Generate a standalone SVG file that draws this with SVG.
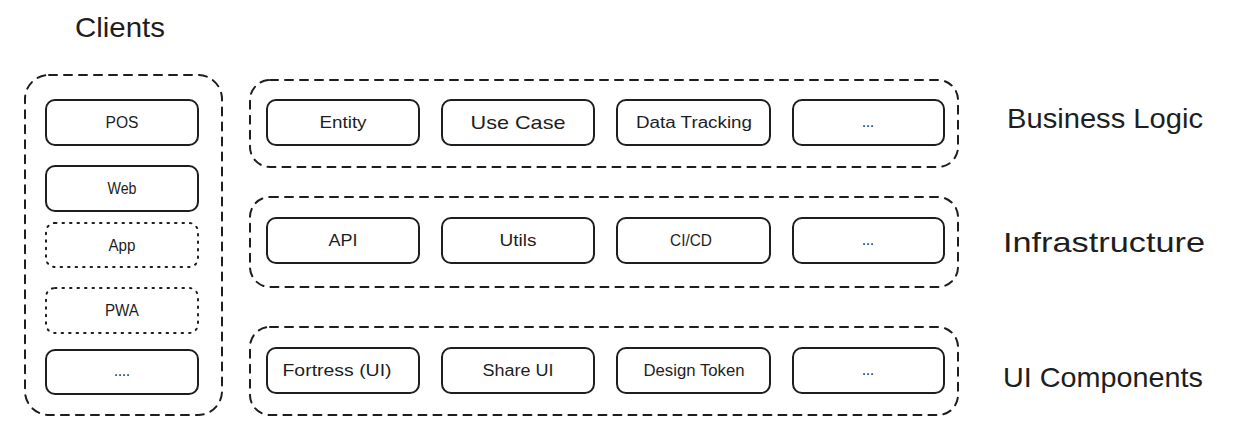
<svg xmlns="http://www.w3.org/2000/svg" width="1237" height="446" viewBox="0 0 1237 446">
<style>
.bg{fill:#ffffff}
.grp{fill:none;stroke:#1e1e1e;stroke-width:2;stroke-dasharray:8 7;stroke-linecap:round}
.box{fill:none;stroke:#1e1e1e;stroke-width:2}
.dot{fill:none;stroke:#1e1e1e;stroke-width:2;stroke-dasharray:1.5 6;stroke-linecap:round}
text{font-family:"Liberation Sans","DejaVu Sans",sans-serif;fill:#1e1e1e;text-anchor:middle}
.t{font-size:16px}
.big{font-size:28px}
</style>
<rect class="bg" x="0" y="0" width="1237" height="446"/>
<g id="connectors"></g>
<g id="clients-group">
<rect class="grp" x="25" y="75" width="197" height="340" rx="24"/>
<text class="big" x="120" y="37" textLength="90" lengthAdjust="spacingAndGlyphs">Clients</text>
</g>
<g id="business-logic">
<rect class="grp" x="250" y="80" width="708" height="87" rx="20"/>
<text class="big" x="1105" y="128" textLength="196" lengthAdjust="spacingAndGlyphs">Business Logic</text>
</g>
<g id="infrastructure">
<rect class="grp" x="250" y="197" width="708" height="90" rx="20"/>
<text class="big" x="1104" y="252" textLength="202" lengthAdjust="spacingAndGlyphs">Infrastructure</text>
</g>
<g id="ui-components">
<rect class="grp" x="250" y="327" width="708" height="88" rx="20"/>
<text class="big" x="1103" y="387" textLength="200" lengthAdjust="spacingAndGlyphs">UI Components</text>
</g>
<g id="pos"><rect class="box" x="46" y="100" width="152" height="45" rx="9"/><text class="t" x="122" y="128" textLength="33" lengthAdjust="spacingAndGlyphs">POS</text></g>
<g id="web"><rect class="box" x="46" y="166" width="152" height="45" rx="9"/><text class="t" x="122" y="194" textLength="29" lengthAdjust="spacingAndGlyphs">Web</text></g>
<g id="app"><rect class="dot" x="46" y="223" width="152" height="44" rx="9"/><text class="t" x="122" y="251" textLength="27" lengthAdjust="spacingAndGlyphs">App</text></g>
<g id="pwa"><rect class="dot" x="46" y="288" width="152" height="45" rx="9"/><text class="t" x="122" y="316" textLength="34" lengthAdjust="spacingAndGlyphs">PWA</text></g>
<g id="client-more"><rect class="box" x="46" y="350" width="152" height="44" rx="9"/><text class="t" x="122" y="376" textLength="16" lengthAdjust="spacingAndGlyphs">....</text></g>
<g id="entity"><rect class="box" x="267" y="100" width="152" height="45" rx="9"/><text class="t" x="343" y="128" textLength="47" lengthAdjust="spacingAndGlyphs">Entity</text></g>
<g id="use-case"><rect class="box" x="442" y="100" width="152" height="45" rx="9"/><text x="518" y="129" style="font-size:19px" textLength="95" lengthAdjust="spacingAndGlyphs">Use Case</text></g>
<g id="data-tracking"><rect class="box" x="617" y="100" width="153" height="45" rx="9"/><text class="t" x="694" y="128" textLength="116" lengthAdjust="spacingAndGlyphs">Data Tracking</text></g>
<g id="bl-more"><rect class="box" x="793" y="100" width="151" height="45" rx="9"/><text class="t" x="868" y="127" textLength="12" lengthAdjust="spacingAndGlyphs">...</text></g>
<g id="api"><rect class="box" x="267" y="218" width="152" height="45" rx="9"/><text class="t" x="343" y="246" textLength="29" lengthAdjust="spacingAndGlyphs">API</text></g>
<g id="utils"><rect class="box" x="442" y="218" width="152" height="45" rx="9"/><text class="t" x="518" y="246" textLength="37" lengthAdjust="spacingAndGlyphs">Utils</text></g>
<g id="cicd"><rect class="box" x="617" y="218" width="153" height="45" rx="9"/><text class="t" x="691" y="246" textLength="42" lengthAdjust="spacingAndGlyphs">CI/CD</text></g>
<g id="infra-more"><rect class="box" x="793" y="218" width="151" height="45" rx="9"/><text class="t" x="868" y="245" textLength="12" lengthAdjust="spacingAndGlyphs">...</text></g>
<g id="fortress"><rect class="box" x="267" y="348" width="152" height="45" rx="9"/><text x="337" y="376" style="font-size:17px" textLength="109" lengthAdjust="spacingAndGlyphs">Fortress (UI)</text></g>
<g id="share-ui"><rect class="box" x="442" y="348" width="152" height="45" rx="9"/><text class="t" x="518" y="376" textLength="71" lengthAdjust="spacingAndGlyphs">Share UI</text></g>
<g id="design-token"><rect class="box" x="617" y="348" width="153" height="45" rx="9"/><text class="t" x="694" y="376" textLength="101" lengthAdjust="spacingAndGlyphs">Design Token</text></g>
<g id="ui-more"><rect class="box" x="793" y="348" width="151" height="45" rx="9"/><text class="t" x="868" y="375" textLength="12" lengthAdjust="spacingAndGlyphs">...</text></g>
</svg>
